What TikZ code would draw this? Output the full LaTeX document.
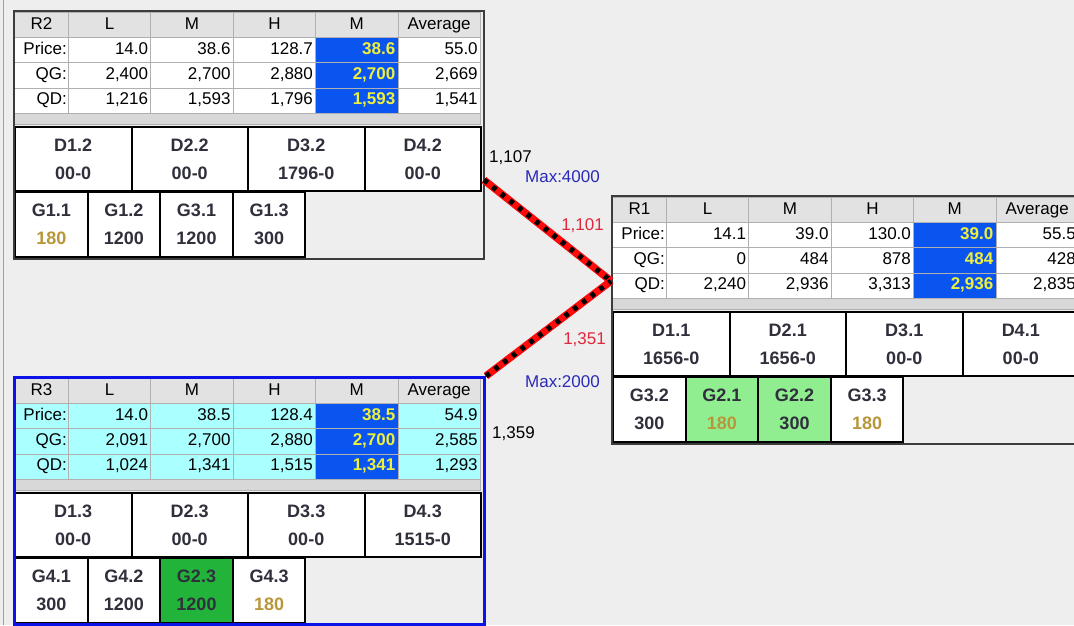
\documentclass[tikz,border=0pt]{standalone}
\usepackage{fontspec}
\setmainfont{Liberation Sans}

\definecolor{panelgray}{HTML}{EEEEEE}
\definecolor{edgegray}{HTML}{A0A0A0}
\definecolor{gridgray}{HTML}{B0B0B0}
\definecolor{headgray}{HTML}{E2E2E2}
\definecolor{stripgray}{HTML}{D8D8D8}
\definecolor{hiblue}{HTML}{0A55F0}
\definecolor{hiyellow}{HTML}{EEF03C}
\definecolor{tablecyan}{HTML}{AAFFFF}
\definecolor{boxtext}{HTML}{30303C}
\definecolor{goldnum}{HTML}{B8963A}
\definecolor{lightgreen}{HTML}{90EE90}
\definecolor{darkgreen}{HTML}{22B43A}
\definecolor{framegray}{HTML}{3C3C3C}
\definecolor{frameblue}{HTML}{0A14E6}
\definecolor{linkred}{HTML}{FF0A0A}
\definecolor{maxblue}{HTML}{2A2AB8}
\definecolor{flowred}{HTML}{E0283C}

\newcommand{\tabfont}{\fontsize{17}{19}\selectfont}
\newcommand{\boxfont}{\fontsize{18}{28}\selectfont\bfseries}
\newcommand{\lblfont}{\fontsize{17}{19}\selectfont}

% header row of a region table
\newcommand{\headrow}[2]{%
  \node[headcell, minimum width=54, text width=48] (#1-0-0) at (1,2) {#2};
  \foreach \t [count=\k] in {L,M,H,M,Average}
    \node[headcell] (#1-0-\k) at ({55+82.4*(\k-1)},2) {\t};
}
% one data row: panel, row number, label, five values
\newcommand{\gridrow}[4]{%
  \node[labcell] (#1-#2-0) at (1,{27+25.33*(#2-1)}) {#3};
  \foreach \v [count=\k] in {#4}
    \node[gcol\k] (#1-#2-\k) at ({55+82.4*(\k-1)},{27+25.33*(#2-1)}) {\v};
}

\begin{document}
\begin{tikzpicture}[x=1pt,y=-1pt,
  cell/.style={draw=gridgray, line width=0.8, inner sep=0, anchor=north west, font=\tabfont, text height=12, text depth=3.5},
  body/.style={fill=white},
  headcell/.style={cell, fill=headgray, minimum width=82.4, minimum height=25, text width=76, align=center},
  labcell/.style={cell, body, minimum width=54, minimum height=25.33, text width=51, align=right},
  numcell/.style={cell, body, minimum width=82.4, minimum height=25.33, text width=77, align=right},
  gcol1/.style={numcell}, gcol2/.style={numcell}, gcol3/.style={numcell},
  gcol4/.style={numcell, fill=hiblue, text=hiyellow, font=\tabfont\bfseries},
  gcol5/.style={numcell},
  boxcell/.style={draw=black, line width=2, fill=white, inner sep=0, anchor=north west, align=center, font=\boxfont, text=boxtext},
  dcell/.style={boxcell, minimum width=116.5, minimum height=64},
  gcell/.style={boxcell, minimum width=72.6, minimum height=65},
  frame/.style={draw=framegray, line width=1.5, anchor=north west, inner sep=0, minimum width=470, minimum height=248},
  link/.style={draw=linkred, line width=7.5, postaction={draw=black, line width=5, dash pattern=on 4.5 off 6.5}},
  flowlab/.style={inner sep=0, font=\lblfont},
  maxlab/.style={flowlab, text=maxblue},
  redlab/.style={flowlab, text=flowred}]

\useasboundingbox (0,0) rectangle (1074,625);
\clip (0,0) rectangle (1074,625);
\fill[panelgray] (0,0) rectangle (1074,625);
\draw[edgegray, line width=1.2] (3.5,0) -- (3.5,625);

% region R2
\begin{scope}[shift={(13,10)}]
  \headrow{r2}{R2}
  \gridrow{r2}{1}{Price:}{14.0,38.6,128.7,38.6,55.0}
  \gridrow{r2}{2}{QG:}{{2,400},{2,700},{2,880},{2,700},{2,669}}
  \gridrow{r2}{3}{QD:}{{1,216},{1,593},{1,796},{1,593},{1,541}}
  \draw[gridgray, fill=stripgray] (1,103) rectangle (467,114);
  \foreach \dname/\dval [count=\k] in {D1.2/00-0, D2.2/00-0, D3.2/1796-0, D4.2/00-0}
    \node[dcell] (r2-d\k) at ({1+116.5*(\k-1)},116) {\dname\\\dval};
  \foreach \gname/\gval/\gfill/\gcol [count=\k] in {G1.1/180/white/goldnum, G1.2/1200/white/boxtext, G3.1/1200/white/boxtext, G1.3/300/white/boxtext}
    \node[gcell, fill=\gfill] (r2-g\k) at ({1+72.6*(\k-1)},181) {\gname\\\textcolor{\gcol}{\gval}};
  \node[frame] (r2) at (0,0) {};
\end{scope}

% region R1
\begin{scope}[shift={(611,195)}]
  \headrow{r1}{R1}
  \gridrow{r1}{1}{Price:}{14.1,39.0,130.0,39.0,55.5}
  \gridrow{r1}{2}{QG:}{0,484,878,484,428}
  \gridrow{r1}{3}{QD:}{{2,240},{2,936},{3,313},{2,936},{2,835}}
  \draw[gridgray, fill=stripgray] (1,103) rectangle (467,114);
  \foreach \dname/\dval [count=\k] in {D1.1/1656-0, D2.1/1656-0, D3.1/00-0, D4.1/00-0}
    \node[dcell] (r1-d\k) at ({1+116.5*(\k-1)},116) {\dname\\\dval};
  \foreach \gname/\gval/\gfill/\gcol [count=\k] in {G3.2/300/white/boxtext, G2.1/180/lightgreen/goldnum, G2.2/300/lightgreen/boxtext, G3.3/180/white/goldnum}
    \node[gcell, fill=\gfill] (r1-g\k) at ({1+72.6*(\k-1)},181) {\gname\\\textcolor{\gcol}{\gval}};
  \node[frame] (r1) at (0,0) {};
\end{scope}

% region R3
\begin{scope}[shift={(13,376)}, body/.style={fill=tablecyan}]
  \headrow{r3}{R3}
  \gridrow{r3}{1}{Price:}{14.0,38.5,128.4,38.5,54.9}
  \gridrow{r3}{2}{QG:}{{2,091},{2,700},{2,880},{2,700},{2,585}}
  \gridrow{r3}{3}{QD:}{{1,024},{1,341},{1,515},{1,341},{1,293}}
  \draw[gridgray, fill=stripgray] (1,103) rectangle (467,114);
  \foreach \dname/\dval [count=\k] in {D1.3/00-0, D2.3/00-0, D3.3/00-0, D4.3/1515-0}
    \node[dcell] (r3-d\k) at ({1+116.5*(\k-1)},116) {\dname\\\dval};
  \foreach \gname/\gval/\gfill/\gcol [count=\k] in {G4.1/300/white/boxtext, G4.2/1200/white/boxtext, G2.3/1200/darkgreen/boxtext, G4.3/180/white/goldnum}
    \node[gcell, fill=\gfill] (r3-g\k) at ({1+72.6*(\k-1)},181) {\gname\\\textcolor{\gcol}{\gval}};
  \node[frame, draw=frameblue, line width=3, minimum height=247] (r3) at (0,0) {};
\end{scope}

% tie lines between regions
\coordinate (r2tie) at (484,180);
\coordinate (r1tie) at (611,281);
\draw[link] (r2tie) -- (r1tie);
\draw[link] (r3.north east) -- (r1tie);

\node[flowlab, anchor=west] (r2out) at (489,158) {1,107};
\node[maxlab, anchor=east] (r2max) at (600,177) {Max:4000};
\node[redlab, anchor=east] (r2in) at (604,226) {1,101};
\node[redlab, anchor=east] (r3in) at (606,340) {1,351};
\node[maxlab, anchor=east] (r3max) at (600,382) {Max:2000};
\node[flowlab, anchor=west] (r3out) at (492,434) {1,359};
\end{tikzpicture}
\end{document}
